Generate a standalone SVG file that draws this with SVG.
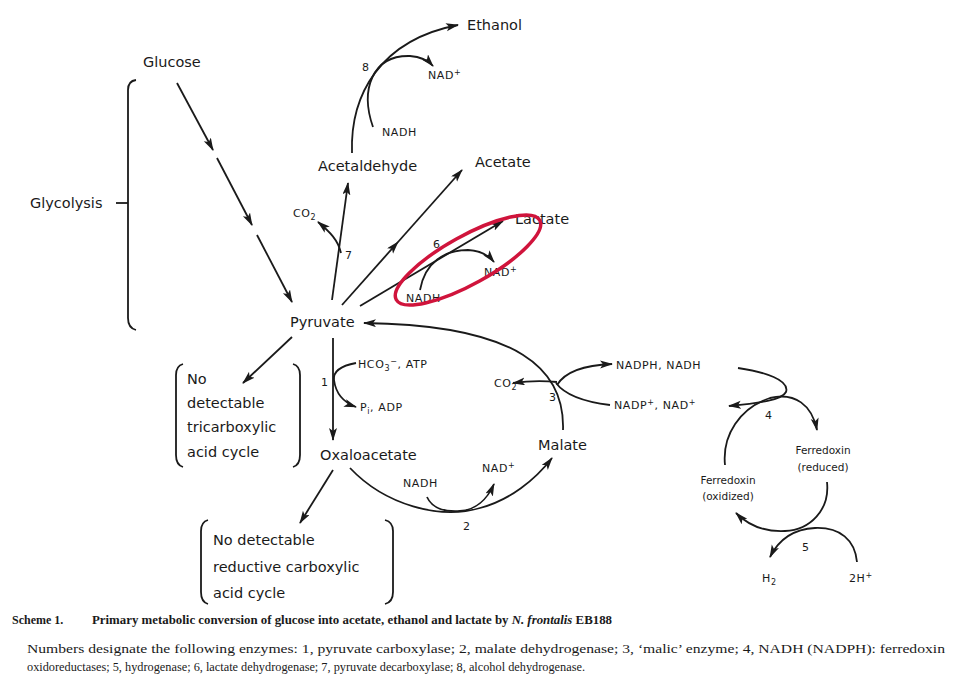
<svg xmlns="http://www.w3.org/2000/svg" width="953" height="686" viewBox="0 0 953 686">
<defs>
<marker id="ah" markerUnits="userSpaceOnUse" markerWidth="14" markerHeight="10" refX="12" refY="4" orient="auto">
<path d="M0,0 L13,4 L0,8 L3,4 z" fill="#1a1a1a"/>
</marker>
<style>
.c{fill:none;stroke:#1a1a1a;stroke-width:1.8;}
.a{marker-end:url(#ah);}
.m{marker-mid:url(#ah);marker-end:url(#ah);}
.L{font-family:"DejaVu Sans","Liberation Sans",sans-serif;font-size:14.5px;fill:#1a1a1a;}
.s{font-family:"DejaVu Sans","Liberation Sans",sans-serif;font-size:11px;fill:#1a1a1a;letter-spacing:0.6px;}
.f{font-family:"DejaVu Sans","Liberation Sans",sans-serif;font-size:10.5px;fill:#1a1a1a;text-anchor:middle;}
.cap{font-family:"Liberation Serif","Times New Roman",serif;fill:#1a1a1a;}
</style>
</defs>
<rect width="953" height="686" fill="#ffffff"/>

<g id="connectors">
<path class="c a" d="M177,83 L213,150"/>
<path class="c a" d="M217,158 L252,225"/>
<path class="c a" d="M257,235 L292,302"/>
<path class="c a" d="M332,300 L348,183"/>
<path class="c a" d="M341,253 C338,240 330,232 318,222"/>
<path class="c a" d="M352,153 C350,95 380,40 458,25"/>
<path class="c a" d="M373,127 C360,90 372,55 410,56 Q425,57 433,66"/>
<path class="c m" d="M342,305 L398,242 L462,170"/>
<path class="c a" d="M360,306 L503,221"/>
<path class="c a" d="M420,290 C425,262 445,250 468,250 Q485,251 494,262"/>
<path class="c a" d="M292,337 L243,383"/>
<path class="c a" d="M333,338 L333,440"/>
<path class="c a" d="M356,363 C340,366 333,372 334,380 C336,395 345,403 356,407"/>
<path class="c a" d="M333,470 L300,523"/>
<path class="c a" d="M563,430 C565,370 520,325 364,323"/>
<path class="c a" d="M557,382 Q535,380 513,383"/>
<path class="c a" d="M557,385 C565,372 585,365 612,364"/>
<path class="c" d="M610,405 C585,402 565,395 556,383"/>
<path class="c a" d="M350,468 C385,505 440,520 480,508 C510,500 535,480 552,458"/>
<path class="c a" d="M427,497 C432,508 445,512 460,511 C475,510 487,500 494,484"/>
<path class="c a" d="M738,368 C765,372 790,380 786,392 C782,400 760,403 729,406"/>
<path class="c a" d="M725,465 C722,435 740,408 770,398 C795,392 812,405 817,430"/>
<path class="c a" d="M827,482 C830,510 810,530 785,531 C765,532 748,525 736,513"/>
<path class="c a" d="M857,562 C855,540 840,527 815,528 C795,529 780,537 770,557"/>
</g>

<g id="glucose"><text class="L" x="143" y="67">Glucose</text></g>
<g id="glycolysis">
<path class="c" d="M136,80 Q128,81 128,90 L128,318 Q128,328 136,330"/>
<path class="c" d="M116,203 L128,203"/>
<text class="L" x="30" y="208">Glycolysis</text>
</g>
<g id="pyruvate"><text class="L" x="290" y="327">Pyruvate</text></g>
<g id="acetaldehyde"><text class="L" x="318" y="171">Acetaldehyde</text></g>
<g id="ethanol"><text class="L" x="467" y="30">Ethanol</text></g>
<g id="acetate"><text class="L" x="475" y="167">Acetate</text></g>
<g id="lactate"><text class="L" x="515" y="224">Lactate</text></g>
<g id="oxaloacetate"><text class="L" x="320" y="460">Oxaloacetate</text></g>
<g id="malate"><text class="L" x="538" y="450">Malate</text></g>

<g id="tca-box">
<path class="c" d="M183,364 Q176,366 176,375 L176,455 Q176,465 183,467"/>
<path class="c" d="M293,364 Q300,366 300,375 L300,455 Q300,465 293,467"/>
<text class="L" x="187" y="384">No</text>
<text class="L" x="187" y="408">detectable</text>
<text class="L" x="187" y="432">tricarboxylic</text>
<text class="L" x="187" y="457">acid cycle</text>
</g>
<g id="rca-box">
<path class="c" d="M208,520 Q201,522 201,531 L201,592 Q201,602 208,604"/>
<path class="c" d="M385,520 Q393,522 393,531 L393,592 Q393,602 385,604"/>
<text class="L" x="213" y="545">No detectable</text>
<text class="L" x="213" y="572">reductive carboxylic</text>
<text class="L" x="213" y="598">acid cycle</text>
</g>

<g id="labels">
<text class="s" x="362" y="71">8</text>
<text class="s" x="428" y="79">NAD<tspan dy="-4" font-size="8">+</tspan></text>
<text class="s" x="382" y="136">NADH</text>
<text class="s" x="293" y="217">CO<tspan dy="3" font-size="8">2</tspan></text>
<text class="s" x="345" y="259">7</text>
<text class="s" x="433" y="248">6</text>
<text class="s" x="484" y="276">NAD<tspan dy="-4" font-size="8">+</tspan></text>
<text class="s" x="406" y="302">NADH</text>
<text class="s" x="358" y="368">HCO<tspan dy="3" font-size="8">3</tspan><tspan dy="-7" font-size="8">−</tspan><tspan dy="4">, ATP</tspan></text>
<text class="s" x="321" y="386">1</text>
<text class="s" x="360" y="411">P<tspan dy="3" font-size="8">i</tspan><tspan dy="-3">, ADP</tspan></text>
<text class="s" x="403" y="487">NADH</text>
<text class="s" x="482" y="472">NAD<tspan dy="-4" font-size="8">+</tspan></text>
<text class="s" x="463" y="530">2</text>
<text class="s" x="494" y="387">CO<tspan dy="3" font-size="8">2</tspan></text>
<text class="s" x="549" y="401">3</text>
<text class="s" x="616" y="369">NADPH, NADH</text>
<text class="s" x="614" y="409">NADP<tspan dy="-4" font-size="8">+</tspan><tspan dy="4">, NAD</tspan><tspan dy="-4" font-size="8">+</tspan></text>
<text class="s" x="765" y="419">4</text>
<text class="s" x="802" y="551">5</text>
<text class="s" x="762" y="582">H<tspan dy="3" font-size="8">2</tspan></text>
<text class="s" x="849" y="582">2H<tspan dy="-4" font-size="8">+</tspan></text>
</g>

<g id="ferredoxin-reduced">
<text class="f" x="823" y="454">Ferredoxin</text>
<text class="f" x="823" y="471">(reduced)</text>
</g>
<g id="ferredoxin-oxidized">
<text class="f" x="728" y="484">Ferredoxin</text>
<text class="f" x="728" y="500">(oxidized)</text>
</g>

<g id="highlight">
<ellipse cx="468" cy="260" rx="82" ry="24" transform="rotate(-29 468 260)" fill="none" stroke="#d0143c" stroke-width="3.5"/>
</g>

<g id="caption">
<text class="cap" x="12" y="624" font-size="12" font-weight="bold">Scheme 1.</text>
<text class="cap" x="92" y="624" font-size="12" font-weight="bold" textLength="520" lengthAdjust="spacingAndGlyphs">Primary metabolic conversion of glucose into acetate, ethanol and lactate by <tspan font-style="italic">N. frontalis</tspan> EB188</text>
<text class="cap" x="27" y="653" font-size="11.5" textLength="918" lengthAdjust="spacingAndGlyphs">Numbers designate the following enzymes: 1, pyruvate carboxylase; 2, malate dehydrogenase; 3, ‘malic’ enzyme; 4, NADH (NADPH): ferredoxin</text>
<text class="cap" x="27" y="671" font-size="11.5" textLength="558" lengthAdjust="spacingAndGlyphs">oxidoreductases; 5, hydrogenase; 6, lactate dehydrogenase; 7, pyruvate decarboxylase; 8, alcohol dehydrogenase.</text>
</g>
</svg>
